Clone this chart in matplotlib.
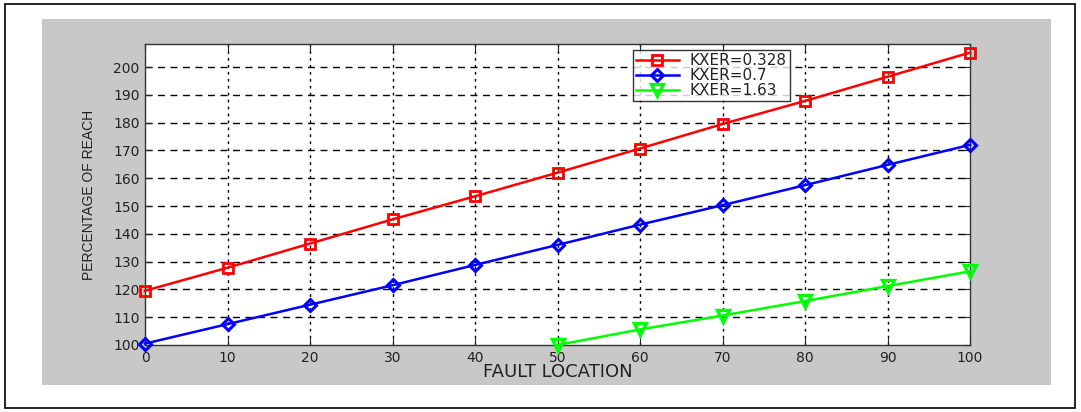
import matplotlib
matplotlib.use('Agg')
import matplotlib.pyplot as plt
from matplotlib.patches import Rectangle

# data
fault_loc = [0, 10, 20, 30, 40, 50, 60, 70, 80, 90, 100]
reach_0328 = [119.5, 127.8, 136.5, 145.2, 153.5, 162.0, 170.7, 179.5, 187.8, 196.5, 205.2]
reach_07 = [100.5, 107.5, 114.5, 121.5, 128.8, 136.0, 143.3, 150.3, 157.5, 164.8, 172.0]
fault_loc_163 = [50, 60, 70, 80, 90, 100]
reach_163 = [100.0, 105.6, 110.6, 115.8, 121.2, 126.5]

labels = ['KXER=0.328', 'KXER=0.7', 'KXER=1.63']
xticks = [0, 10, 20, 30, 40, 50, 60, 70, 80, 90, 100]
yticks = [100, 110, 120, 130, 140, 150, 160, 170, 180, 190, 200]

plt.rcParams['font.family'] = ['DejaVu Sans']

fig = plt.figure(figsize=(10.81, 4.12), dpi=100)
fig.patch.set_facecolor('white')

# outer frame and grey panel (behind the axes)
fig.patches.append(Rectangle((5/1081, 4/412), 1070/1081, 404/412, transform=fig.transFigure,
                             facecolor='white', edgecolor='black', linewidth=1.2, zorder=-2))
fig.patches.append(Rectangle((42/1081, 27/412), 1009/1081, 366/412, transform=fig.transFigure,
                             facecolor='#c8c8c8', edgecolor='none', zorder=-1))

ax = fig.add_axes([145/1081, 67/412, 825/1081, 301/412])
ax.set_facecolor('white')

ax.plot(fault_loc, reach_0328, '-', color='#ff0000', lw=1.8, marker='s', ms=7,
        mfc='none', mec='#ff0000', mew=2, label=labels[0], clip_on=False, zorder=3)
ax.plot(fault_loc, reach_07, '-', color='#0000ff', lw=1.8, marker='D', ms=6,
        mfc='none', mec='#0000ff', mew=2.2, label=labels[1], clip_on=False, zorder=3)
ax.plot(fault_loc_163, reach_163, '-', color='#00ff00', lw=1.8, marker='v', ms=8,
        mfc='none', mec='#00ff00', mew=2.4, label=labels[2], clip_on=False, zorder=3)

ax.set_xlim(0, 100)
ax.set_ylim(100, 208.3)
ax.set_xticks(xticks)
ax.set_yticks(yticks)

for x in xticks[1:-1]:
    ax.axvline(x, color='black', lw=1, dashes=(2, 3), zorder=1)
for y in yticks[1:]:
    ax.axhline(y, color='black', lw=1, dashes=(5, 4), zorder=1)

ax.tick_params(direction='in', top=True, right=True, length=5, width=0.8,
               labelsize=10, colors='#222222', pad=4)
for s in ax.spines.values():
    s.set_color('#333333')
    s.set_linewidth(1)

ax.set_xlabel('FAULT LOCATION', fontsize=13, color='#222222', labelpad=-1)
ax.set_ylabel('PERCENTAGE OF REACH', fontsize=10, color='#222222', labelpad=12,
              family='Liberation Sans')

leg = ax.legend(loc='upper left', bbox_to_anchor=(488/825, 1 - 6/301), fontsize=11,
                frameon=True, fancybox=False, edgecolor='black', borderpad=0.2,
                labelspacing=0.0, handlelength=2.8, handletextpad=0.7, borderaxespad=0)
leg.get_frame().set_linewidth(1)
for t in leg.get_texts():
    t.set_color('#222222')

fig.savefig('out.png', dpi=100)
